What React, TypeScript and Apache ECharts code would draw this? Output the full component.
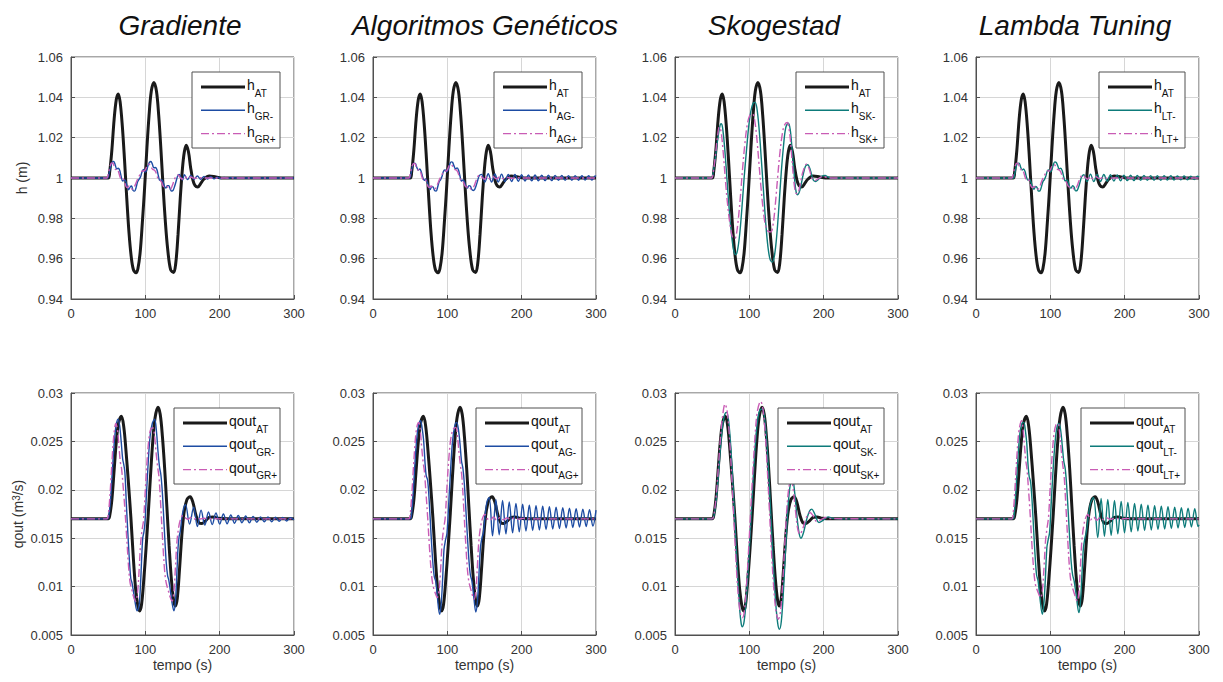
import React, { useEffect, useRef } from 'react';
import * as echarts from 'echarts';

// ---------- data ----------
const TITLES = ['Gradiente', 'Algoritmos Genéticos', 'Skogestad', 'Lambda Tuning'];
const METHODS = ['GR', 'AG', 'SK', 'LT'];
const X_MIN = 0, X_MAX = 300, X_STEP = 100;
const H_MIN = 0.94, H_MAX = 1.06, H_STEP = 0.02;
const Q_MIN = 0.005, Q_MAX = 0.03, Q_STEP = 0.005;

const H_AT = [[0,1],[50,1],[52,1.003],[55,1.014],[58,1.029],[61,1.039],[63.5,1.0417],[66,1.038],[69,1.026],[72,1.009],[75,0.99],[78,0.973],[81,0.961],[84,0.9545],[87.5,0.953],[90,0.955],[93,0.963],[96,0.978],[99,0.995],[102,1.014],[105,1.031],[108,1.043],[111.5,1.0474],[115,1.043],[118,1.031],[121,1.014],[124,0.995],[127,0.978],[130,0.965],[134,0.9545],[138,0.9532],[141,0.958],[144,0.972],[147,0.99],[150,1.005],[152.5,1.013],[155,1.0162],[158,1.013],[161,1.005],[164,0.999],[167,0.9962],[170.5,0.9955],[174,0.997],[179,0.9995],[186,1.001],[195,1.0005],[205,1],[300,1]];

const H_GR_M = [[0,1],[49,1],[51,1.002],[53,1.005],[55.5,1.0078],[57.5,1.0082],[59.5,1.0065],[61.5,1.0045],[63.5,1.0048],[65.5,1.0038],[67.5,1.0008],[69.5,0.9985],[71.5,0.999],[73.5,0.9985],[75.5,0.9958],[77.5,0.9942],[79.5,0.9955],[81.5,0.996],[83.5,0.9938],[85.5,0.9935],[87.5,0.9952],[89.5,0.998],[91.5,0.9993],[93.5,1.0005],[95.5,1.003],[97.5,1.0042],[99.5,1.003],[101.5,1.0035],[103.5,1.006],[105.5,1.0078],[107.5,1.0082],[109.5,1.0068],[111.5,1.005],[113.5,1.0052],[115.5,1.0042],[117.5,1.0012],[119.5,0.9988],[121.5,0.999],[123.5,0.9985],[125.5,0.996],[127.5,0.995],[129.5,0.9962],[131.5,0.9962],[133.5,0.9945],[135.5,0.9935],[137.5,0.994],[139.5,0.996],[141.5,0.9985],[143.5,1.001],[145.5,1.0017],[148,1.0002],[150,0.999],[152.5,1.0016],[157,0.9992],[161,1.0013],[165.5,0.9993],[170,1.001],[174.5,0.9994],[179,1.0008],[183.5,0.9995],[188,1.0006],[192.5,0.9996],[197,1.0004],[201.5,0.9997],[206,1.0003],[211,0.9998],[216,1.0002],[222,1],[300,1]];
const H_GR_P = [[0,1],[48,1],[50,1.002],[52,1.005],[54,1.0072],[56,1.0075],[58,1.006],[60,1.0042],[62,1.0045],[64,1.003],[66,1.0005],[68,0.999],[70,0.9995],[72,0.998],[74,0.9958],[76,0.9952],[78,0.996],[80,0.9955],[82,0.9945],[84,0.9948],[86,0.9962],[88,0.998],[90,0.9998],[92,1.0012],[94,1.0025],[96,1.0035],[98,1.0035],[100,1.004],[102,1.0058],[104,1.0068],[106,1.0065],[108,1.0052],[110,1.0042],[112,1.004],[114,1.003],[116,1.0008],[118,0.999],[120,0.9988],[122,0.9978],[124,0.996],[126,0.9955],[128,0.996],[130,0.9955],[132,0.9945],[134,0.9945],[136,0.996],[138,0.998],[140,1],[142,1.0012],[144,1.0015],[147,1.0002],[150,0.9995],[153,1.0008],[157,0.9996],[161,1.0005],[166,0.9998],[172,1.0002],[180,1],[300,1]];

const H_AG_M = [[0,1],[49,1],[51,1.002],[53,1.0055],[55,1.0074],[57,1.0072],[59,1.0052],[61,1.004],[63,1.0045],[65,1.003],[67,1.0002],[69,0.9988],[71,0.9995],[73,0.998],[75,0.9955],[77,0.9943],[79,0.9958],[81,0.9955],[83,0.9937],[85,0.9935],[87,0.9955],[89,0.9982],[91,0.9992],[93,1.001],[95,1.0035],[97,1.004],[99,1.003],[101,1.004],[103,1.0065],[105,1.008],[107,1.0078],[109,1.006],[111,1.0045],[113,1.005],[115,1.004],[117,1.001],[119,0.9985],[121,0.999],[123,0.9982],[125,0.9958],[127,0.995],[129,0.9962],[131,0.996],[133,0.9942],[135,0.9938],[137,0.9945],[139,0.9965],[141,0.999],[143,1.0012],[146,1.0018],[150.5,0.998],[155,1.0021],[159.5,0.998],[164,1.002],[168.5,0.998],[173,1.0019],[177.5,0.9982],[182,1.0018],[186.5,0.9983],[191,1.0017],[195.5,0.9984],[200,1.0016],[204.5,0.9985],[209,1.0015],[213.5,0.9986],[218,1.0015],[222.5,0.9986],[227,1.0014],[231.5,0.9987],[236,1.0014],[240.5,0.9987],[245,1.0013],[249.5,0.9988],[254,1.0013],[258.5,0.9988],[263,1.0012],[267.5,0.9989],[272,1.0012],[276.5,0.9989],[281,1.0011],[285.5,0.999],[290,1.0011],[294.5,0.999],[299,1.001],[300,1.0008]];
const H_AG_P = [[0,1],[48,1],[50,1.002],[52,1.0052],[54,1.007],[56,1.0072],[58,1.0058],[60,1.004],[62,1.0043],[64,1.003],[66,1.0004],[68,0.999],[70,0.9994],[72,0.998],[74,0.9958],[76,0.9953],[78,0.996],[80,0.9955],[82,0.9946],[84,0.9948],[86,0.9962],[88,0.998],[90,0.9997],[92,1.0012],[94,1.0026],[96,1.0035],[98,1.0034],[100,1.004],[102,1.0058],[104,1.0067],[106,1.0064],[108,1.0052],[110,1.0042],[112,1.004],[114,1.003],[116,1.0008],[118,0.999],[120,0.9987],[122,0.9977],[124,0.996],[126,0.9955],[128,0.9959],[130,0.9954],[132,0.9945],[134,0.9946],[136,0.996],[138,0.998],[140,1],[142,1.0012],[144,1.0015],[147,1.0003],[150,0.9994],[153.5,1.0009],[157.5,0.9995],[161.5,1.0007],[166,0.9996],[170.5,1.0005],[175,0.9997],[180,1.0003],[186,0.9999],[195,1.0001],[205,1],[300,1]];

const H_SK_M = [[0,1],[49,1],[51,1.002],[54,1.009],[57,1.018],[60,1.025],[62,1.0269],[64,1.025],[67,1.014],[70,0.999],[73,0.984],[76,0.972],[79,0.964],[81.6,0.962],[84,0.964],[87,0.972],[90,0.985],[93,1],[96,1.013],[99,1.025],[102,1.033],[105,1.037],[107.6,1.0375],[110,1.035],[113,1.025],[116,1.01],[119,0.994],[122,0.978],[125,0.966],[128,0.9595],[131,0.9583],[134,0.962],[137,0.972],[140,0.987],[143,1.003],[146,1.016],[149,1.025],[152.5,1.0272],[155,1.024],[158,1.012],[161,0.999],[163,0.993],[165,0.9917],[168,0.994],[172,1.001],[175.5,1.0058],[178.5,1.0066],[182,1.004],[186,0.999],[189,0.9983],[193,0.9993],[197,1.0008],[201.8,1.0013],[206,1.0005],[212,0.9998],[220,1],[300,1]];
const H_SK_P = [[0,1],[49,1],[51,1.002],[54,1.01],[57,1.02],[59.6,1.0253],[62,1.023],[65,1.012],[68,0.998],[71,0.986],[74,0.977],[77,0.971],[79.8,0.9698],[82,0.971],[85,0.979],[88,0.991],[91,1.005],[94,1.017],[97,1.026],[100.5,1.031],[104.5,1.0317],[107,1.029],[110,1.02],[113,1.007],[116,0.994],[119,0.983],[122,0.976],[125.5,0.9735],[129,0.9733],[132,0.977],[135,0.987],[138,1],[141,1.012],[144,1.021],[147,1.026],[151,1.0275],[154,1.023],[157,1.011],[160,0.998],[162.5,0.9925],[164.6,0.9922],[168,0.996],[172,1.003],[177,1.0069],[181,1.004],[184,1],[187.4,0.9987],[193,0.9997],[199.5,1.0008],[206,1],[300,1]];

const H_LT_M = [[0,1],[50,1],[52,1.002],[54,1.0055],[56,1.0073],[58,1.0074],[60,1.0055],[62,1.004],[64,1.0045],[66,1.0032],[68,1.0003],[70,0.9988],[72,0.9994],[74,0.998],[76,0.9955],[78,0.9944],[80,0.9958],[82,0.9953],[84,0.9935],[86,0.9936],[88,0.9956],[90,0.9982],[92,0.9992],[94,1.001],[96,1.0035],[98,1.004],[100,1.003],[102,1.004],[104,1.0066],[106,1.008],[108,1.0077],[110,1.006],[112,1.0045],[114,1.0048],[116,1.0036],[118,1.0006],[120,0.9985],[122,0.999],[124,0.998],[126,0.9955],[128,0.995],[130,0.9962],[132,0.9955],[134,0.9936],[136,0.9938],[138,0.9955],[140,0.998],[142,1.0005],[145,1.0016],[149.5,0.9982],[154,1.0019],[158.5,0.9982],[163,1.0018],[167.5,0.9983],[172,1.0017],[176.5,0.9984],[181,1.0016],[185.5,0.9985],[190,1.0015],[194.5,0.9986],[199,1.0014],[203.5,0.9987],[208,1.0014],[212.5,0.9987],[217,1.0013],[221.5,0.9988],[226,1.0013],[230.5,0.9988],[235,1.0012],[239.5,0.9989],[244,1.0012],[248.5,0.9989],[253,1.0011],[257.5,0.999],[262,1.0011],[266.5,0.999],[271,1.001],[275.5,0.9991],[280,1.001],[284.5,0.9991],[289,1.0009],[293.5,0.9992],[298,1.0009],[300,1.0004]];
const H_LT_P = [[0,1],[48,1],[50,1.002],[52,1.005],[54,1.0071],[56,1.0074],[58,1.006],[60,1.0042],[62,1.0044],[64,1.003],[66,1.0005],[68,0.999],[70,0.9994],[72,0.998],[74,0.996],[76,0.9952],[78,0.9958],[80,0.9954],[82,0.9944],[84,0.9946],[86,0.996],[88,0.998],[90,0.9998],[92,1.0012],[94,1.0026],[96,1.0035],[98,1.0034],[100,1.004],[102,1.0057],[104,1.0067],[106,1.0064],[108,1.0052],[110,1.0042],[112,1.004],[114,1.003],[116,1.0008],[118,0.999],[120,0.9987],[122,0.9976],[124,0.996],[126,0.9955],[128,0.9958],[130,0.9954],[132,0.9945],[134,0.9946],[136,0.996],[138,0.998],[140,1],[142,1.0012],[144,1.0015],[147,1.0003],[150,0.9994],[153.5,1.0009],[157.5,0.9995],[161.5,1.0006],[166,0.9997],[171,1.0003],[177,0.9999],[185,1],[300,1]];

const Q_AT = [[0,0.017],[50,0.017],[52,0.0173],[55,0.019],[58,0.022],[61,0.025],[64,0.0269],[67.9,0.02759],[71,0.0265],[74,0.024],[77,0.021],[80.5,0.0172],[84,0.0128],[87,0.0097],[90,0.008],[92.4,0.00748],[95,0.0082],[98,0.0108],[101,0.014],[104,0.0176],[107,0.0215],[110,0.025],[113,0.0274],[117,0.02852],[120,0.0278],[123,0.0255],[126,0.0222],[129,0.0182],[132,0.0142],[135,0.0108],[138,0.0086],[140.5,0.008],[143,0.0088],[146,0.0118],[149,0.0152],[152,0.0176],[156,0.019],[160.3,0.01928],[164,0.0187],[168,0.0174],[172,0.0166],[176.3,0.01652],[181,0.0168],[186,0.01715],[191,0.0172],[198,0.01705],[210,0.017],[300,0.017]];

const Q_GR_M = [[0,0.017],[49,0.017],[51,0.0174],[53,0.0188],[55,0.0212],[57,0.0236],[59,0.0256],[61,0.0268],[63.4,0.0273],[65.5,0.0266],[67.5,0.025],[69.5,0.0232],[71,0.0226],[72.5,0.0218],[74.5,0.0185],[77,0.0148],[79,0.0122],[80.5,0.0108],[82,0.0104],[84,0.0095],[86,0.0085],[89,0.0075],[91.5,0.008],[93.5,0.0102],[95,0.0128],[96.5,0.015],[98,0.0156],[99.5,0.0166],[101.5,0.0195],[104,0.023],[106.5,0.0256],[109.5,0.0269],[112.5,0.0273],[115,0.026],[117,0.024],[119,0.0224],[121,0.0215],[123,0.0196],[125.5,0.016],[128,0.0126],[130,0.0111],[131.5,0.0107],[133.5,0.0097],[136,0.0083],[138.4,0.0075],[140.5,0.0085],[142.5,0.0115],[144,0.014],[145.5,0.0152],[147,0.0157],[149,0.017],[151.5,0.0181],[154,0.01845],[159.5,0.01645],[165,0.0182],[170,0.0162],[175,0.0179],[180,0.01635],[185,0.0177],[190,0.0164],[195,0.0176],[200,0.01645],[205,0.0175],[210,0.0165],[215,0.0174],[220,0.01655],[225,0.01735],[230,0.0166],[235,0.0173],[240,0.0166],[245,0.01725],[250,0.01665],[255,0.0172],[260,0.0167],[265,0.0172],[270,0.0167],[275,0.01718],[280,0.01675],[285,0.01715],[290,0.01678],[295,0.01712],[300,0.0169]];
const Q_GR_P = [[0,0.017],[48,0.017],[50,0.0174],[52,0.019],[54,0.0214],[56,0.024],[58,0.0259],[60.3,0.02686],[62.5,0.0262],[64.5,0.0245],[66.5,0.0228],[68,0.0222],[70,0.0205],[72.5,0.018],[75,0.015],[77.5,0.012],[79.5,0.0104],[81.5,0.0098],[84,0.009],[87,0.0085],[89.5,0.0094],[91.5,0.0115],[93.5,0.0143],[95.5,0.0158],[97.5,0.0168],[100,0.02],[102.5,0.0232],[105,0.0254],[107.5,0.0263],[110.3,0.0264],[112.5,0.0255],[114.5,0.0238],[116.5,0.0224],[118.5,0.0212],[121,0.018],[123.5,0.0145],[126,0.0116],[128,0.0104],[130.5,0.0097],[133,0.009],[136,0.0085],[138.5,0.0096],[140.5,0.012],[142.5,0.0146],[145,0.0162],[147.5,0.017],[150.5,0.01735],[154,0.0171],[157.5,0.01695],[161,0.01715],[165,0.01695],[169.5,0.0171],[174,0.01698],[179,0.01706],[185,0.01698],[192,0.01704],[200,0.017],[300,0.017]];

const Q_AG_M = [[0,0.017],[50,0.017],[52,0.0176],[54,0.0196],[56,0.0222],[58,0.0245],[60,0.0261],[62,0.0269],[64,0.02714],[66,0.0264],[68,0.0252],[70,0.0228],[71.5,0.0215],[73.5,0.021],[75.5,0.019],[78,0.0155],[80.5,0.0125],[82.5,0.011],[84.5,0.0105],[86.5,0.009],[89.6,0.00714],[91.5,0.008],[93.5,0.0105],[95.5,0.0138],[97.5,0.0148],[99.5,0.0155],[102,0.0188],[104.5,0.0222],[107,0.025],[110,0.0266],[112.6,0.02697],[115,0.0262],[117,0.0248],[119,0.023],[121,0.0222],[123,0.0205],[126,0.0165],[129,0.0128],[131,0.0112],[133,0.0106],[135.5,0.009],[138.3,0.00738],[140.5,0.0085],[142.5,0.0112],[144.5,0.014],[146.5,0.015],[148.5,0.0156],[151,0.0175],[153.5,0.0188],[156.3,0.0192],[160.8,0.01524],[165.3,0.019],[169.8,0.01535],[174.3,0.0189],[178.8,0.01545],[183.3,0.01875],[187.8,0.01555],[192.3,0.0186],[196.8,0.01565],[201.3,0.0185],[205.8,0.01575],[210.3,0.0184],[214.8,0.0158],[219.3,0.01835],[223.8,0.01585],[228.3,0.0183],[232.8,0.0159],[237.3,0.01825],[241.8,0.01595],[246.3,0.0182],[250.8,0.016],[255.3,0.01815],[259.8,0.01605],[264.3,0.0181],[268.8,0.0161],[273.3,0.01805],[277.8,0.01615],[282.3,0.018],[286.8,0.0162],[291.3,0.01795],[295.8,0.01625],[300,0.0179]];
const Q_AG_P = [[0,0.017],[48,0.017],[50,0.0175],[52,0.0193],[54,0.0218],[56,0.0242],[58,0.026],[60,0.0268],[61.7,0.02697],[63.5,0.0262],[65.5,0.0244],[67.5,0.0228],[69,0.022],[71,0.02],[73.5,0.0172],[76,0.014],[78.5,0.0114],[80.5,0.0102],[83,0.0095],[86.5,0.00886],[89,0.0097],[91,0.0118],[93,0.0146],[95,0.016],[97,0.017],[99.5,0.0203],[102,0.0232],[104.5,0.0252],[107.5,0.0262],[111.3,0.02645],[113.5,0.0256],[115.5,0.024],[117.5,0.0226],[119.5,0.0214],[122,0.0182],[124.5,0.0148],[127,0.0118],[129,0.0105],[132,0.0096],[136,0.00869],[138.5,0.0097],[140.5,0.0122],[142.5,0.0148],[145,0.0163],[147.5,0.0171],[150.5,0.01745],[154,0.017],[158,0.01685],[162,0.0172],[166.5,0.01685],[171,0.01715],[175.5,0.0169],[180,0.0171],[185,0.01695],[190,0.01708],[196,0.01697],[202,0.01705],[210,0.017],[300,0.017]];

const Q_SK_M = [[0,0.017],[50,0.017],[52,0.0172],[55,0.0186],[58,0.0212],[61,0.0242],[64,0.0266],[67,0.0278],[69.5,0.028],[72,0.0272],[75,0.0245],[78,0.0205],[81,0.016],[84,0.0115],[87,0.0077],[89,0.0062],[90.6,0.00586],[93,0.0064],[96,0.0088],[99,0.0125],[102,0.0167],[105,0.0209],[108,0.0246],[111,0.0271],[114,0.0282],[117.5,0.02835],[120,0.0277],[123,0.0254],[126,0.0217],[129,0.0172],[132,0.0126],[135,0.0088],[138,0.0063],[140.4,0.0056],[143,0.0064],[146,0.0097],[149,0.0142],[152,0.0182],[155,0.0205],[158,0.0212],[161,0.0197],[164,0.0173],[167,0.0155],[169.5,0.015],[173,0.0156],[177,0.0169],[181,0.0178],[184,0.018],[188,0.0175],[193.7,0.01662],[200,0.0169],[206,0.0172],[212,0.01705],[220,0.017],[300,0.017]];
const Q_SK_P = [[0,0.017],[50,0.017],[52,0.0173],[55,0.019],[58,0.022],[61,0.0252],[64,0.0276],[67.3,0.02886],[70,0.0282],[73,0.0257],[76,0.0218],[79,0.0172],[82,0.0127],[85,0.0092],[88,0.0072],[90.6,0.00679],[93,0.0073],[96,0.0099],[99,0.0138],[102,0.0181],[105,0.0222],[108,0.0259],[111,0.0282],[115.2,0.02914],[118,0.0285],[121,0.0262],[124,0.0224],[127,0.0179],[130,0.0134],[133,0.0097],[136,0.0074],[139,0.00662],[142,0.0075],[145,0.0106],[148,0.0148],[151,0.0186],[154,0.0206],[156.5,0.021],[159,0.0201],[162,0.0179],[165,0.016],[168,0.0154],[172,0.016],[177,0.0172],[181.6,0.01766],[186,0.0173],[190.6,0.01672],[197,0.01695],[203,0.01714],[210,0.01702],[300,0.017]];

const Q_LT_M = [[0,0.017],[49.5,0.017],[51.5,0.0176],[53.5,0.0196],[55.5,0.0222],[57.5,0.0245],[59.5,0.0261],[62,0.0269],[64.3,0.02697],[66.3,0.0262],[68.3,0.0248],[70,0.0226],[71.5,0.0214],[73.5,0.0208],[75.5,0.0188],[78,0.0152],[80,0.0126],[81.5,0.0112],[83.5,0.0106],[85.5,0.0092],[89.3,0.00714],[91.3,0.0082],[93.3,0.0108],[95.3,0.014],[97,0.0148],[99,0.0156],[101.5,0.019],[104,0.0224],[106.5,0.025],[109,0.0265],[111.6,0.02686],[114,0.0261],[116,0.0246],[118,0.023],[120,0.0222],[122,0.0204],[125,0.0164],[128,0.0126],[130,0.0112],[132,0.0106],[135,0.009],[138.4,0.00731],[140.5,0.0084],[142.5,0.0112],[144.5,0.014],[146.5,0.015],[148.5,0.0157],[151,0.0172],[154,0.0186],[158,0.0192],[163.8,0.01507],[168.3,0.0191],[172.8,0.0152],[177.3,0.019],[181.8,0.0153],[186.3,0.0189],[190.8,0.01545],[195.3,0.0188],[199.8,0.01555],[204.3,0.0187],[208.8,0.01565],[213.3,0.0186],[217.8,0.01575],[222.3,0.0185],[226.8,0.0158],[231.3,0.0184],[235.8,0.01585],[240.3,0.01835],[244.8,0.0159],[249.3,0.0183],[253.8,0.01595],[258.3,0.01825],[262.8,0.016],[267.3,0.0182],[271.8,0.01605],[276.3,0.01815],[280.8,0.0161],[285.3,0.0181],[289.8,0.01615],[294.3,0.01805],[298.8,0.0162],[300,0.0164]];
const Q_LT_P = [[0,0.017],[48,0.017],[50,0.0176],[52,0.0196],[54,0.0222],[56,0.0246],[58,0.0262],[61.2,0.02714],[63,0.0265],[65,0.0247],[67,0.023],[68.5,0.0222],[70.5,0.0202],[73,0.0173],[75.5,0.014],[78,0.0114],[80,0.0102],[83,0.0095],[87,0.00886],[89.5,0.0098],[91.5,0.012],[93.5,0.0147],[95.5,0.016],[97.5,0.0171],[100,0.0205],[102.5,0.0236],[105,0.0258],[107.5,0.0267],[110.3,0.02686],[112.5,0.0259],[114.5,0.0242],[116.5,0.0227],[118.5,0.0215],[121,0.0182],[123.5,0.0147],[126,0.0117],[128,0.0104],[131,0.0096],[136.2,0.00852],[138.5,0.0096],[140.5,0.0122],[142.5,0.0148],[145,0.0163],[147.5,0.0171],[150.5,0.01745],[154,0.0169],[158,0.0172],[162.5,0.01685],[167,0.01715],[171.5,0.0169],[176,0.0171],[181,0.01695],[187,0.01707],[194,0.01697],[202,0.01704],[210,0.017],[300,0.017]];

const H_MINUS = [H_GR_M, H_AG_M, H_SK_M, H_LT_M];
const H_PLUS = [H_GR_P, H_AG_P, H_SK_P, H_LT_P];
const Q_MINUS = [Q_GR_M, Q_AG_M, Q_SK_M, Q_LT_M];
const Q_PLUS = [Q_GR_P, Q_AG_P, Q_SK_P, Q_LT_P];

// ---------- style / layout ----------
const FONT = '"Liberation Sans", Arial, Helvetica, sans-serif';
const LEFTS = [71, 373, 675, 976];
const TOPS = [57, 393];
const GW = 223;
const GH = 242;
const TITLE_CX = [180, 485, 774, 1075];
const C_BLACK = '#1a1a1a';
const C_BLUE = '#1d4ca3';
const C_TEAL = '#0d7b7a';
const C_PINK = '#c95cb5';
const DASHDOT = [8, 3, 2, 3];
const MINUS_COLORS = [C_BLUE, C_BLUE, C_TEAL, C_TEAL];
const AXIS_C = '#505050';
const TEXT_C = '#333333';

function fmtTick(v: number) {
  return String(parseFloat(v.toFixed(4)));
}

function buildOption() {
  const grid: any[] = [];
  const xAxis: any[] = [];
  const yAxis: any[] = [];
  const series: any[] = [];
  const graphic: any[] = [];

  for (let r = 0; r < 2; r++) {
    for (let c = 0; c < 4; c++) {
      const gi = r * 4 + c;
      grid.push({
        left: LEFTS[c], top: TOPS[r], width: GW, height: GH,
        show: true, borderColor: AXIS_C, borderWidth: 1, backgroundColor: 'transparent',
      });
      xAxis.push({
        gridIndex: gi, type: 'value', min: X_MIN, max: X_MAX, interval: X_STEP,
        axisLine: { show: true, lineStyle: { color: AXIS_C, width: 1 } },
        axisTick: { show: true, inside: true, length: 4, lineStyle: { color: AXIS_C } },
        axisLabel: { margin: 8, fontSize: 13, color: TEXT_C, fontFamily: FONT },
        splitLine: { show: true, lineStyle: { color: '#d6d6d6', width: 1 } },
        name: r === 1 ? 'tempo (s)' : '',
        nameLocation: 'middle', nameGap: 23,
        nameTextStyle: { fontSize: 14, color: TEXT_C, fontFamily: FONT },
      });
      const isTop = r === 0;
      yAxis.push({
        gridIndex: gi, type: 'value',
        min: isTop ? H_MIN : Q_MIN, max: isTop ? H_MAX : Q_MAX, interval: isTop ? H_STEP : Q_STEP,
        axisLine: { show: true, lineStyle: { color: AXIS_C, width: 1 } },
        axisTick: { show: true, inside: true, length: 4, lineStyle: { color: AXIS_C } },
        axisLabel: { margin: 8, fontSize: 13, color: TEXT_C, fontFamily: FONT, formatter: fmtTick },
        splitLine: { show: true, lineStyle: { color: '#d6d6d6', width: 1 } },
        name: c === 0 ? (isTop ? 'h (m)' : '{a|qout (m}{s|3}{a|/s)}') : '',
        nameLocation: 'middle', nameGap: isTop ? 42 : 44,
        nameTextStyle: {
          fontSize: 14, color: TEXT_C, fontFamily: FONT,
          rich: {
            a: { fontSize: 14, color: TEXT_C, fontFamily: FONT, verticalAlign: 'top', lineHeight: 16 },
            s: { fontSize: 10, color: TEXT_C, fontFamily: FONT, verticalAlign: 'top', lineHeight: 10 },
          },
        },
      });

      const base = isTop ? 'h' : 'qout';
      const m = METHODS[c];
      const lines = [
        { sub: 'AT', data: isTop ? H_AT : Q_AT, color: C_BLACK, width: 3, type: 'solid' as any },
        { sub: m + '-', data: isTop ? H_MINUS[c] : Q_MINUS[c], color: MINUS_COLORS[c], width: 1.4, type: 'solid' as any },
        { sub: m + '+', data: isTop ? H_PLUS[c] : Q_PLUS[c], color: C_PINK, width: 1.4, type: DASHDOT as any },
      ];
      lines.forEach((ln, k) => {
        series.push({
          type: 'line', name: base + '_' + ln.sub + '_' + gi,
          xAxisIndex: gi, yAxisIndex: gi, data: ln.data,
          symbol: 'none', smooth: 0.35, silent: true, z: 2 + k,
          lineStyle: { color: ln.color, width: ln.width, type: ln.type },
          clip: true,
        });
      });

      // legend box
      const bw = isTop ? (c === 3 ? 86 : 88) : (c === 3 ? 104 : 106);
      const bh = 76;
      const bRight = LEFTS[c] + GW - 14;
      const bx = bRight - bw;
      const by = TOPS[r] + 15;
      graphic.push({
        type: 'rect', z: 100, silent: true,
        shape: { x: bx, y: by, width: bw, height: bh },
        style: { fill: '#ffffff', stroke: AXIS_C, lineWidth: 1 },
      });
      lines.forEach((ln, k) => {
        const ly = by + 15 + k * 23.3;
        graphic.push({
          type: 'line', z: 101, silent: true,
          shape: { x1: bx + 9, y1: ly, x2: bx + 53, y2: ly },
          style: { stroke: ln.color, lineWidth: ln.width, lineDash: Array.isArray(ln.type) ? ln.type : null },
        });
        graphic.push({
          type: 'text', z: 101, silent: true,
          style: {
            x: bx + 55, y: ly - 9,
            text: '{a|' + base + '}{s|' + ln.sub + '}',
            align: 'left', verticalAlign: 'top', textAlign: 'left', textVerticalAlign: 'top',
            fill: '#000', fontSize: 14, fontFamily: FONT,
            rich: {
              a: { fontSize: 14, fontFamily: FONT, fill: '#111', color: '#111', verticalAlign: 'top', lineHeight: 15 },
              s: { fontSize: 10, fontFamily: FONT, fill: '#111', color: '#111', verticalAlign: 'top', lineHeight: 11, padding: [10, 0, 0, 0] },
            },
          },
        });
      });
    }
  }

  TITLES.forEach((t, c) => {
    graphic.push({
      type: 'text', z: 100, silent: true,
      style: {
        x: TITLE_CX[c], y: 25, text: t,
        align: 'center', verticalAlign: 'middle', textAlign: 'center', textVerticalAlign: 'middle',
        fill: '#111', fontSize: 28, fontStyle: 'italic', fontFamily: FONT,
      },
    });
  });

  return {
    animation: false,
    backgroundColor: '#ffffff',
    grid, xAxis, yAxis, series, graphic,
  };
}

export default function App() {
  const ref = useRef<HTMLDivElement>(null);
  useEffect(() => {
    if (!ref.current) return;
    const chart = echarts.init(ref.current, null, { renderer: 'svg' });
    chart.setOption(buildOption() as any);
    return () => chart.dispose();
  }, []);
  return (
    <div
      ref={ref}
      style={{ position: 'fixed', left: 0, top: 0, width: 1223, height: 682, background: '#fff' }}
    />
  );
}
